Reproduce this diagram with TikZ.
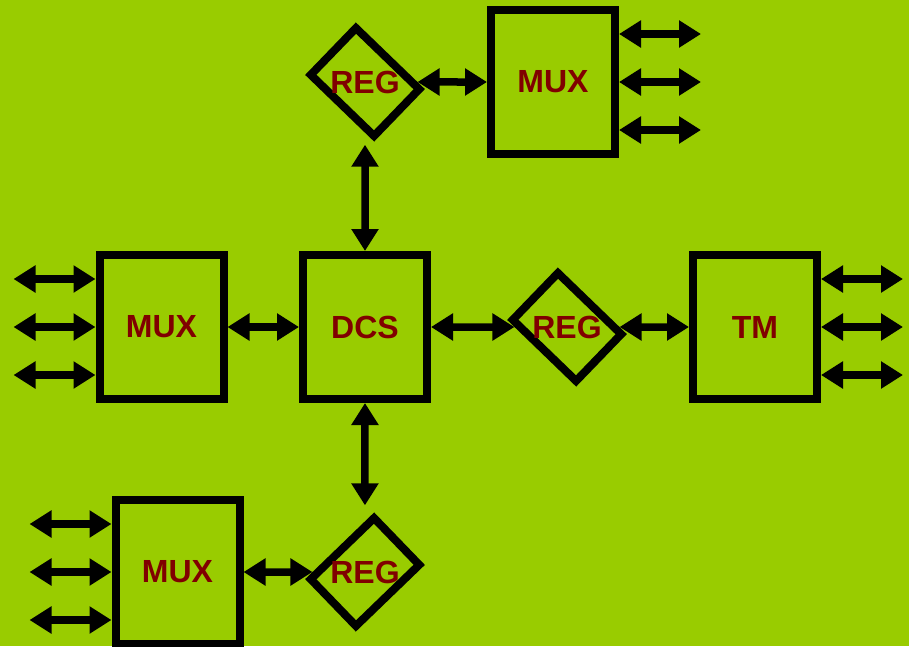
\documentclass[tikz,border=0pt]{standalone}
\usepackage{fontspec}
\setmainfont{Liberation Sans}
\usetikzlibrary{arrows.meta}
\definecolor{leaf}{RGB}{153,204,0}
\definecolor{regred}{RGB}{128,0,0}
\tikzset{
  unit/.style={draw, line width=8pt, minimum width=124pt, minimum height=144pt, text=regred, font=\fontsize{32}{38}\selectfont\bfseries},
  reg/.style={draw, line width=8pt, minimum width=88pt, minimum height=65pt},
  tag/.style={text=regred, font=\fontsize{32}{38}\selectfont\bfseries},
  link/.style={line width=7.5pt, >={Triangle[length=22pt,width=26pt]}, <->}
}
\begin{document}
\begin{tikzpicture}[x=1pt, y=-1pt]
    \clip (0,0) rectangle (909,646);
    \fill[leaf] (0,0) rectangle (909,646);
    \node[unit] (dcs) at (365,327) {DCS};
    \node[unit] (muxl) at (161.5,327) {MUX};
    \node[unit] (tm) at (755,327) {TM};
    \node[unit] (muxt) at (553,82) {MUX};
    \node[unit] (muxb) at (177.5,572) {MUX};
    \node[reg, rotate=-44] (regt) at (365,82) {};
    \node[reg, rotate=-44] (regm) at (567,327) {};
    \node[reg, rotate=44] (regb) at (365,572) {};
    \foreach \r in {regt,regm,regb}
        \node[tag] at (\r) {REG};
    \draw[link] (regt) -- (muxt);
    \draw[link, shorten <=12pt] (regt) -- (dcs);
    \draw[link] (muxl) -- (dcs);
    \draw[link] (dcs) -- (regm);
    \draw[link] (regm) -- (tm);
    \draw[link, shorten >=16pt] (dcs) -- (regb);
    \draw[link] (muxb) -- (regb);
    \foreach \dy [count=\i] in {-48,0,48} {
        \coordinate (t\i) at ([shift={(82,\dy)}]muxt.east);
        \coordinate (l\i) at ([shift={(-82,\dy)}]muxl.west);
        \coordinate (m\i) at ([shift={(82,\dy)}]tm.east);
        \coordinate (b\i) at ([shift={(-82,\dy)}]muxb.west);
        \draw[link] (muxt.east |- t\i) -- (t\i);
        \draw[link] (l\i) -- (muxl.west |- l\i);
        \draw[link] (tm.east |- m\i) -- (m\i);
        \draw[link] (b\i) -- (muxb.west |- b\i);
    }
\end{tikzpicture}
\end{document}
